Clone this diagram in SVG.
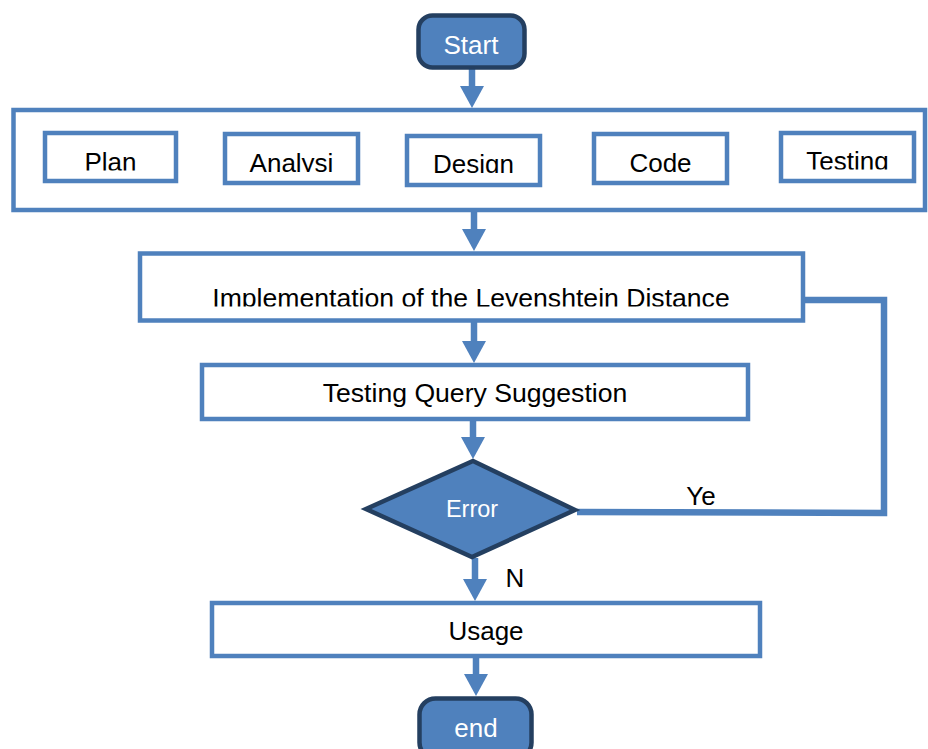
<svg xmlns="http://www.w3.org/2000/svg" width="928" height="749" viewBox="0 0 928 749">
  <style>
    .box { fill: #ffffff; stroke: #4f81bd; stroke-width: 4.5; }
    .term { fill: #4f81bd; stroke: #243f60; stroke-width: 4.5; }
    .lbl { font-family: "Liberation Sans", Arial, sans-serif; font-size: 26px; fill: #000000; text-anchor: middle; }
    .lbl-w { font-family: "Liberation Sans", Arial, sans-serif; font-size: 26px; fill: #ffffff; text-anchor: middle; }
    .wide { font-size: 26.6px; }
    .conn { fill: none; stroke: #4f81bd; stroke-width: 6.5; }
  </style>
  <defs>
    <marker id="ah" markerUnits="userSpaceOnUse" markerWidth="24" markerHeight="24" refX="0" refY="12" orient="auto">
      <path d="M0,0 L22,12 L0,24 Z" fill="#4f81bd"/>
    </marker>
    <!-- labels in the phase boxes are cut off at their baselines -->
    <clipPath id="cPlan"><rect x="40" y="130" width="140" height="40.5"/></clipPath>
    <clipPath id="cAnal"><rect x="220" y="130" width="145" height="42"/></clipPath>
    <clipPath id="cDes"><rect x="400" y="130" width="145" height="43"/></clipPath>
    <clipPath id="cTest"><rect x="775" y="130" width="145" height="39.5"/></clipPath>
    <clipPath id="cImpl"><rect x="140" y="255" width="660" height="51.5"/></clipPath>
  </defs>

  <!-- connectors -->
  <g id="connectors">
    <line class="conn" x1="472" y1="69" x2="472" y2="86" marker-end="url(#ah)"/>
    <line class="conn" x1="474" y1="212" x2="474" y2="229" marker-end="url(#ah)"/>
    <line class="conn" x1="474" y1="322" x2="474" y2="341" marker-end="url(#ah)"/>
    <line class="conn" x1="473" y1="420" x2="473" y2="437" marker-end="url(#ah)"/>
    <line class="conn" x1="475" y1="558" x2="475" y2="579" marker-end="url(#ah)"/>
    <line class="conn" x1="476" y1="658" x2="476" y2="674" marker-end="url(#ah)"/>
    <polyline class="conn" points="577,512 884,513 884,300 804,300"/>
  </g>

  <g id="start">
    <rect class="term" x="418.5" y="15.5" width="106" height="52" rx="14"/>
    <text class="lbl-w" x="471" y="54">Start</text>
  </g>

  <g id="phases">
    <rect class="box" x="13.5" y="110" width="911.5" height="100"/>
  </g>
  <g id="plan">
    <rect class="box" x="45" y="133" width="131" height="48"/>
    <text class="lbl" x="110.5" y="170.5" clip-path="url(#cPlan)">Plan</text>
  </g>
  <g id="analysis">
    <rect class="box" x="225" y="134" width="133" height="49"/>
    <text class="lbl" x="291.5" y="172" clip-path="url(#cAnal)">Analysi</text>
  </g>
  <g id="design">
    <rect class="box" x="407" y="136" width="133" height="49"/>
    <text class="lbl" x="473.5" y="173" clip-path="url(#cDes)">Design</text>
  </g>
  <g id="code">
    <rect class="box" x="594" y="134" width="133" height="49"/>
    <text class="lbl" x="660.5" y="172">Code</text>
  </g>
  <g id="testing">
    <rect class="box" x="781" y="133" width="133" height="48"/>
    <text class="lbl" x="847.5" y="169.5" clip-path="url(#cTest)">Testing</text>
  </g>

  <g id="implementation">
    <rect class="box" x="140" y="253.5" width="663" height="67"/>
    <text class="lbl wide" x="471" y="306.5" clip-path="url(#cImpl)">Implementation of the Levenshtein Distance</text>
  </g>

  <g id="testing-query">
    <rect class="box" x="202" y="365" width="546" height="54"/>
    <text class="lbl wide" x="475" y="402">Testing Query Suggestion</text>
  </g>

  <g id="error">
    <polygon class="term" points="473,461 575,510 472,557 366,509"/>
    <text class="lbl-w" x="472" y="517" style="font-size:23.5px">Error</text>
  </g>
  <text class="lbl" x="701" y="505">Ye</text>
  <text class="lbl" x="515" y="587">N</text>

  <g id="usage">
    <rect class="box" x="212" y="603" width="548" height="53"/>
    <text class="lbl" x="486" y="640">Usage</text>
  </g>

  <g id="end">
    <rect class="term" x="419.5" y="698.5" width="112" height="60" rx="16"/>
    <text class="lbl-w" x="476" y="737">end</text>
  </g>
</svg>
